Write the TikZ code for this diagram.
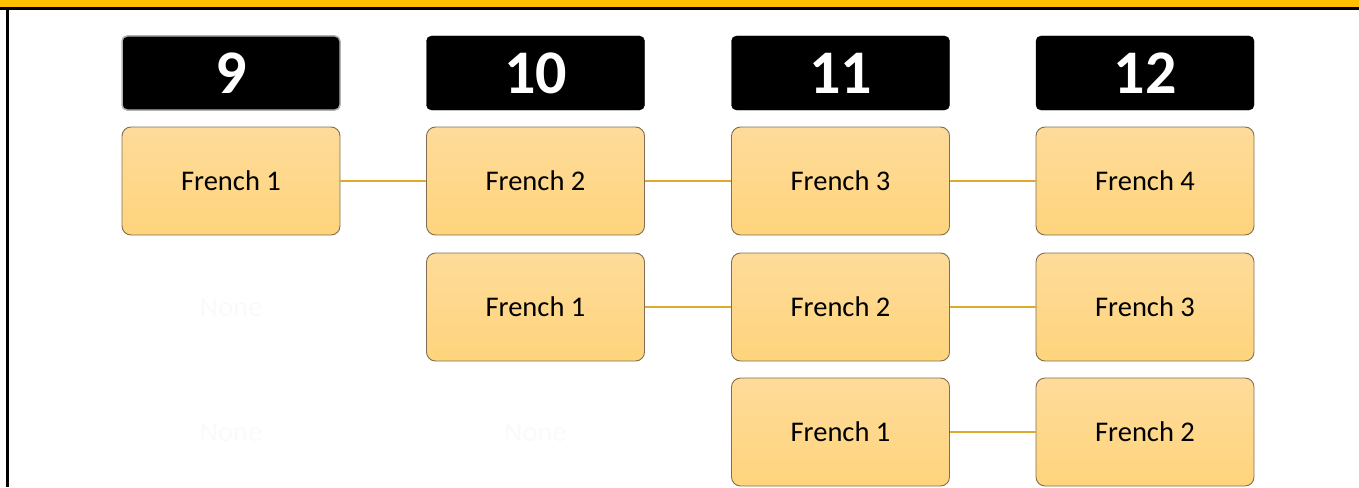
\documentclass[tikz,border=0pt]{standalone}
\usepackage{fontspec}
\setmainfont{Carlito}
\usepackage{tikz}
\definecolor{bandorange}{HTML}{FFC000}
\definecolor{boxtop}{HTML}{FEDB9A}
\definecolor{boxbot}{HTML}{FED47C}
\definecolor{boxedge}{HTML}{7F6F50}
\definecolor{linkgold}{HTML}{DDAA2E}

\begin{document}
\begin{tikzpicture}[x=1pt,y=-1pt]
		\tikzset{grade/.style = {draw=black, fill=black, rounded corners=5pt, minimum width=218pt, minimum height=74pt, inner sep=0pt, text=white, font=\fontsize{62}{62}\selectfont\bfseries}}
		\tikzset{course/.style = {draw=boxedge, line width=0.9pt, top color=boxtop, bottom color=boxbot, rounded corners=9pt, minimum width=218pt, minimum height=108pt, inner sep=0pt, font=\fontsize{28.5}{28.5}\selectfont}}
		\tikzset{blank/.style = {text=white!98!black, font=\fontsize{28.5}{28.5}\selectfont}}
		\tikzset{link/.style = {draw=linkgold, line width=2.2pt}}
		\useasboundingbox (0,0) rectangle (1359,487);
		\fill[bandorange] (0,0) rectangle (1359,7.5);
		\draw[line width=2.5pt] (0,8.5) -- (1359,8.5);
		\draw[line width=2.5pt] (7.5,8.5) -- (7.5,487);
		% grade headers
		\node[grade, draw=gray!60, line width=1.5pt] (G9) at (231,73){9};
		\node[grade] (G10) at (535.5,73){10};
		\node[grade] (G11) at (840.5,73){11};
		\node[grade] (G12) at (1145,73){12};
		% courses
		\node[course] (A1) at (231,181){French 1};
		\node[course] (A2) at (535.5,181){French 2};
		\node[course] (A3) at (840.5,181){French 3};
		\node[course] (A4) at (1145,181){French 4};
		\node[blank] (B1) at (231,307){None};
		\node[course] (B2) at (535.5,307){French 1};
		\node[course] (B3) at (840.5,307){French 2};
		\node[course] (B4) at (1145,307){French 3};
		\node[blank] (C1) at (231,432){None};
		\node[blank] (C2) at (535.5,432){None};
		\node[course] (C3) at (840.5,432){French 1};
		\node[course] (C4) at (1145,432){French 2};
		% pathways
		\draw[link] (A1) -- (A2);
		\draw[link] (A2) -- (A3);
		\draw[link] (A3) -- (A4);
		\draw[link] (B2) -- (B3);
		\draw[link] (B3) -- (B4);
		\draw[link] (C3) -- (C4);
	\end{tikzpicture}
\end{document}
